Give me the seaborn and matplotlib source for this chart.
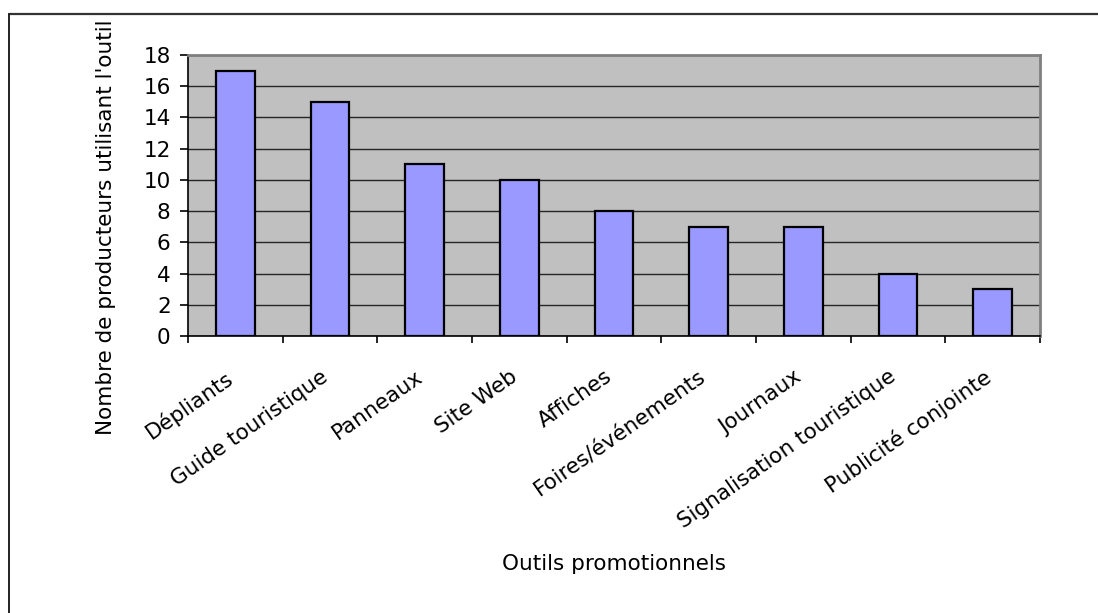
import matplotlib
matplotlib.use("Agg")
import matplotlib.pyplot as plt
import matplotlib.transforms as mtransforms
import numpy as np
import pandas as pd
import seaborn as sns

# Promotional tools and number of producers using each one
outils = ["Dépliants", "Guide touristique", "Panneaux", "Site Web", "Affiches",
          "Foires/événements", "Journaux", "Signalisation touristique",
          "Publicité conjointe"]
nb_producteurs = [17, 15, 11, 10, 8, 7, 7, 4, 3]
y_ticks = [0, 2, 4, 6, 8, 10, 12, 14, 16, 18]

df = pd.DataFrame({"outil": outils, "n": nb_producteurs})

sns.set_style("white")
plt.rcParams["font.family"] = ["DejaVu Sans"]
plt.rcParams["text.color"] = "black"
plt.rcParams["xtick.color"] = "black"
plt.rcParams["ytick.color"] = "black"
FS = 15.5

W, H, DPI = 1098, 613, 100
fig = plt.figure(figsize=(W / DPI, H / DPI), dpi=DPI)
fig.patch.set_facecolor("white")

# plot area in pixel coordinates
left, right, top, bottom = 188, 1040, 55, 336
ax = fig.add_axes([left / W, 1 - bottom / H, (right - left) / W, (bottom - top) / H])
ax.set_facecolor("#C0C0C0")

sns.barplot(data=df, x="outil", y="n", color="#9999FF", saturation=1,
            width=0.41, edgecolor="black", linewidth=1.6, ax=ax, zorder=3)

ax.set_ylim(0, 18)
ax.set_xlim(-0.5, len(outils) - 0.5)
ax.set_yticks(y_ticks)
ax.set_yticklabels([str(t) for t in y_ticks], fontsize=FS, color="black")
ax.yaxis.grid(True, color="#262626", linewidth=1.0, zorder=1)
ax.set_axisbelow(True)

# category boundaries carry the tick marks, centres carry the labels
ax.set_xticks(np.arange(-0.5, len(outils), 1.0))
ax.set_xticklabels([])
ax.set_xticks(np.arange(len(outils)), minor=True)
ax.set_xticklabels(outils, minor=True, fontsize=FS, rotation=35, color="black",
                   ha="right", va="top", rotation_mode="anchor")
ax.tick_params(axis="x", which="major", direction="out", length=5, width=1.2,
               color="black", bottom=True)
ax.tick_params(axis="x", which="minor", length=0, pad=22)
ax.tick_params(axis="y", direction="out", length=5.5, width=1.2, color="black",
               pad=7, left=True)
shift = mtransforms.ScaledTranslation(-10 / DPI, 0, fig.dpi_scale_trans)
for lab in ax.get_xticklabels(minor=True):
    lab.set_transform(lab.get_transform() + shift)

ax.set_xlabel("")
ax.set_ylabel("")
for side in ("top", "right"):
    ax.spines[side].set_color("#808080")
    ax.spines[side].set_linewidth(2.0)
for side in ("left", "bottom"):
    ax.spines[side].set_color("black")
    ax.spines[side].set_linewidth(1.2)

fig.text(614 / W, 1 - 564 / H, "Outils promotionnels", fontsize=FS,
         ha="center", va="center", color="black")
fig.text(106 / W, 1 - 227 / H, "Nombre de producteurs utilisant l'outil",
         fontsize=FS, rotation=90, ha="center", va="center", color="black")

# chart frame: top and left border lines
fig.add_artist(plt.Line2D([9 / W, 1.0], [1 - 14 / H, 1 - 14 / H],
                          color="#333333", linewidth=1.6, transform=fig.transFigure))
fig.add_artist(plt.Line2D([9 / W, 9 / W], [0, 1 - 14 / H],
                          color="#222222", linewidth=1.4, transform=fig.transFigure))

fig.savefig("out.png", dpi=DPI)
